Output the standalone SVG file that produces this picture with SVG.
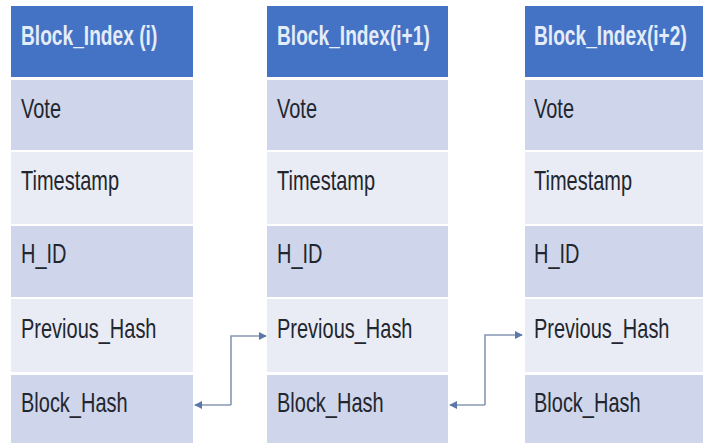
<svg xmlns="http://www.w3.org/2000/svg" width="703" height="445" viewBox="0 0 703 445">
<defs>
<style>
.hd{fill:#4472C4}
.dk{fill:#CFD5EA}
.lt{fill:#E9EBF5}
.ht{font-family:"Liberation Sans",Arial,sans-serif;font-weight:bold;font-size:27px;fill:#E4ECF8}
.tx{font-family:"Liberation Sans",Arial,sans-serif;font-size:27px;fill:#22262e}
.cn{fill:none;stroke:#8797B2;stroke-width:1.6}
</style>
<marker id="ah" viewBox="0 0 10 10" refX="9" refY="5" markerWidth="5" markerHeight="5" orient="auto">
<path d="M0,0 L10,5 L0,10 z" fill="#5A78A8"/>
</marker>
</defs>
<rect width="703" height="445" fill="#FFFFFF"/>
<g id="block-i">
<rect class="hd" x="11" y="6" width="182" height="71"/>
<rect class="dk" x="11" y="80" width="182" height="70"/>
<rect class="lt" x="11" y="152" width="182" height="72"/>
<rect class="dk" x="11" y="226" width="182" height="71"/>
<rect class="lt" x="11" y="299" width="182" height="73"/>
<rect class="dk" x="11" y="375" width="182" height="68"/>
<text class="ht" transform="translate(21,45) scale(0.71,1)">Block_Index (i)</text>
<text class="tx" transform="translate(21,118) scale(0.74,1)">Vote</text>
<text class="tx" transform="translate(21,190) scale(0.74,1)">Timestamp</text>
<text class="tx" transform="translate(21,263) scale(0.74,1)">H_ID</text>
<text class="tx" transform="translate(21,338) scale(0.74,1)">Previous_Hash</text>
<text class="tx" transform="translate(21,412) scale(0.74,1)">Block_Hash</text>
</g>
<g id="block-i1">
<rect class="hd" x="267" y="6" width="181" height="71"/>
<rect class="dk" x="267" y="80" width="181" height="70"/>
<rect class="lt" x="267" y="152" width="181" height="72"/>
<rect class="dk" x="267" y="226" width="181" height="71"/>
<rect class="lt" x="267" y="299" width="181" height="73"/>
<rect class="dk" x="267" y="375" width="181" height="68"/>
<text class="ht" transform="translate(277,45) scale(0.71,1)">Block_Index(i+1)</text>
<text class="tx" transform="translate(277,118) scale(0.74,1)">Vote</text>
<text class="tx" transform="translate(277,190) scale(0.74,1)">Timestamp</text>
<text class="tx" transform="translate(277,263) scale(0.74,1)">H_ID</text>
<text class="tx" transform="translate(277,338) scale(0.74,1)">Previous_Hash</text>
<text class="tx" transform="translate(277,412) scale(0.74,1)">Block_Hash</text>
</g>
<g id="block-i2">
<rect class="hd" x="525" y="6" width="178" height="71"/>
<rect class="dk" x="525" y="80" width="178" height="70"/>
<rect class="lt" x="525" y="152" width="178" height="72"/>
<rect class="dk" x="525" y="226" width="178" height="71"/>
<rect class="lt" x="525" y="299" width="178" height="73"/>
<rect class="dk" x="525" y="375" width="178" height="68"/>
<text class="ht" transform="translate(534,45) scale(0.71,1)">Block_Index(i+2)</text>
<text class="tx" transform="translate(534,118) scale(0.74,1)">Vote</text>
<text class="tx" transform="translate(534,190) scale(0.74,1)">Timestamp</text>
<text class="tx" transform="translate(534,263) scale(0.74,1)">H_ID</text>
<text class="tx" transform="translate(534,338) scale(0.74,1)">Previous_Hash</text>
<text class="tx" transform="translate(534,412) scale(0.74,1)">Block_Hash</text>
</g>
<g id="connectors">
<path class="cn" d="M231,405 H195" marker-end="url(#ah)"/>
<path class="cn" d="M231,405 V336 H266" marker-end="url(#ah)"/>
<path class="cn" d="M485,405 H450" marker-end="url(#ah)"/>
<path class="cn" d="M485,405 V335 H522" marker-end="url(#ah)"/>
</g>
</svg>
